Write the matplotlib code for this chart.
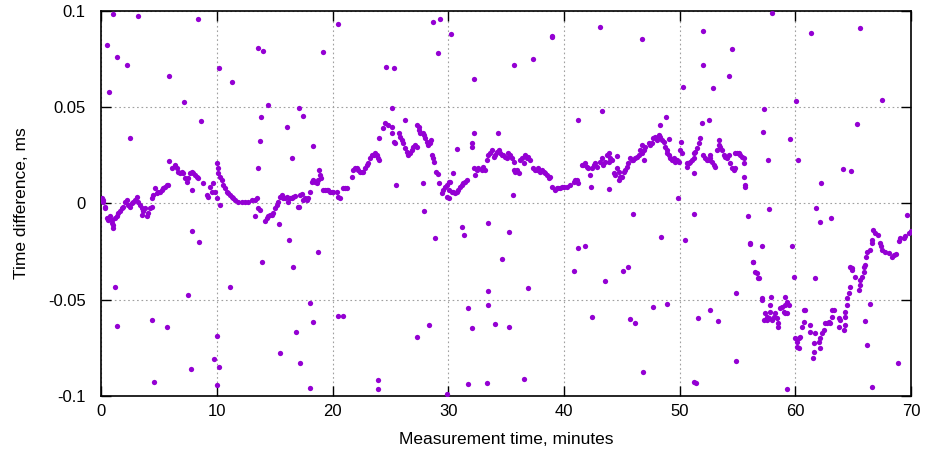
import matplotlib
matplotlib.use("Agg")
import matplotlib.pyplot as plt
from matplotlib.ticker import FuncFormatter

plt.rcParams['font.family'] = ['Liberation Sans', 'DejaVu Sans']

# main band (minutes, ms)
seg_00_10 = [
    (0.06, 0.0027), (0.14, 0.0018), (0.2, 0.0009), (0.35, -0.0017), (0.35, -0.0026),
    (0.49, -0.0077), (0.63, -0.0086), (0.78, -0.0068), (0.92, -0.0086), (0.92, -0.0103),
    (1.07, -0.0129), (1.07, -0.0112), (1.21, -0.0077), (1.35, -0.0068), (1.5, -0.0051),
    (1.64, -0.0042), (1.79, -0.0025), (1.93, -0.0017), (2.07, 0.0009), (2.22, 0.0018),
    (2.36, -0.0008), (2.5, -0.0017), (2.65, 0.0001), (2.79, 0.0009), (2.94, 0.0018),
    (3.08, 0.0035), (3.23, 0.0009), (3.37, -0.0008), (3.51, -0.0025), (3.51, -0.006),
    (3.66, -0.0042), (3.8, -0.0025), (3.95, -0.0068), (4.09, -0.0051), (4.23, -0.0025),
    (4.38, -0.0017), (4.38, 0.0027), (4.52, 0.0044), (4.67, 0.0079), (4.81, 0.0053),
    (4.95, 0.0061), (5.1, 0.0061), (5.24, 0.007), (5.38, 0.0079), (5.53, 0.0087),
    (5.68, 0.0096), (5.82, 0.0096), (5.88, 0.0222), (6.11, 0.0183), (6.4, 0.02),
    (6.54, 0.0183), (6.68, 0.0165), (6.83, 0.0157), (6.97, 0.0165), (7.11, 0.0157),
    (7.26, 0.0131), (7.41, 0.0113), (7.55, 0.0131), (7.69, 0.0157), (7.84, 0.0165),
    (7.98, 0.0157), (8.12, 0.0148), (8.27, 0.0139), (8.41, 0.0131), (7.84, 0.007),
    (8.84, 0.0105), (9.13, 0.0044), (9.27, 0.0035), (9.42, 0.0087), (9.56, 0.0061),
    (9.71, 0.0105), (9.85, 0.0061), (10.0, 0.0027),
]
seg_10_20 = [
    (10.0, 0.0209), (10.14, 0.0183), (10.14, 0.0157), (10.28, 0.0139), (10.43, 0.0122),
    (10.57, 0.0096), (10.72, 0.0079), (10.86, 0.0061), (11.0, 0.0053), (11.15, 0.0044),
    (11.29, 0.0035), (11.44, 0.0027), (11.58, 0.0018), (11.87, 0.0009), (12.16, 0.0009),
    (12.44, 0.0009), (12.73, 0.0009), (13.02, 0.0015), (13.31, 0.0018), (13.45, 0.0027),
    (10.28, -0.0008), (13.6, -0.0025), (13.74, -0.0034), (13.31, -0.0068), (14.17, -0.0094),
    (14.32, -0.0077), (14.46, -0.0068), (14.6, -0.006), (14.75, -0.006), (14.89, -0.0051),
    (15.04, -0.0025), (15.18, -0.0008), (15.32, 0.0009), (15.47, 0.0035), (15.61, 0.0044),
    (15.76, 0.0027), (15.9, 0.0027), (16.05, 0.0035), (16.19, 0.0009), (16.33, 0.0027),
    (16.48, 0.0027), (16.62, 0.0035), (16.77, 0.0039), (15.41, -0.0106), (17.05, -0.0017),
    (17.2, 0.0044), (17.34, 0.0049), (17.49, 0.0018), (17.63, 0.0027), (17.78, 0.0018),
    (17.92, 0.0027), (18.06, 0.0061), (18.21, 0.0113), (18.35, 0.0122), (18.49, 0.0113),
    (18.64, 0.0105), (18.78, 0.0122), (18.84, 0.0174), (18.93, 0.0148), (19.01, 0.0131),
    (19.21, 0.007), (19.36, 0.007), (19.5, 0.007), (19.65, 0.007), (19.79, 0.0061),
    (19.94, 0.0061),
]
seg_20_30 = [
    (20.08, 0.0061), (20.37, 0.0061), (20.51, 0.0035), (20.66, 0.0027), (20.94, 0.0079),
    (21.09, 0.0079), (21.23, 0.0079), (21.66, 0.0139), (21.8, 0.0174), (21.95, 0.0183),
    (22.1, 0.0183), (22.24, 0.0174), (22.38, 0.0165), (22.53, 0.0165), (22.67, 0.0165),
    (22.82, 0.0183), (22.96, 0.02), (23.1, 0.0209), (23.25, 0.0235), (23.4, 0.0252),
    (23.54, 0.0252), (23.68, 0.0261), (23.83, 0.0252), (23.97, 0.0235), (24.05, 0.0226),
    (24.05, 0.0342), (24.4, 0.039), (24.54, 0.0417), (24.83, 0.0408), (25.12, 0.0399),
    (25.12, 0.0365), (25.27, 0.0321), (25.41, 0.0313), (25.7, 0.0365), (25.84, 0.0347),
    (25.99, 0.033), (26.13, 0.0313), (26.27, 0.0287), (26.42, 0.0269), (26.56, 0.0252),
    (26.7, 0.0261), (26.85, 0.0278), (26.99, 0.0295), (27.14, 0.0304), (27.28, 0.0295),
    (26.27, 0.0434), (27.34, 0.0408), (27.51, 0.0399), (27.43, 0.0382), (27.57, 0.0365),
    (27.8, 0.0365), (27.91, 0.0356), (28.0, 0.0339), (28.15, 0.0321), (28.29, 0.0304),
    (28.43, 0.0313), (28.49, 0.033), (28.58, 0.0252), (28.72, 0.0235), (28.78, 0.0217),
    (28.95, 0.0165), (29.07, 0.0153), (29.24, 0.0105), (29.44, 0.0053), (29.58, 0.007),
    (29.73, 0.0087), (29.88, 0.0096), (29.88, 0.0035),
]
seg_30_40 = [
    (30.02, 0.007), (30.02, 0.0113), (30.1, 0.0027), (30.16, 0.0113), (30.31, 0.0061),
    (30.45, 0.0061), (30.59, 0.0053), (30.74, 0.0061), (30.88, 0.007), (31.03, 0.0087),
    (31.17, 0.0096), (31.31, 0.0105), (31.46, 0.0113), (31.6, 0.0122), (30.45, 0.0157),
    (32.18, 0.0183), (32.32, 0.0148), (32.47, 0.0174), (32.61, 0.0183), (32.9, 0.0174),
    (33.04, 0.0191), (33.19, 0.0174), (33.33, 0.0226), (33.47, 0.0252), (33.62, 0.0261),
    (33.76, 0.0278), (33.91, 0.0243), (34.05, 0.0252), (34.2, 0.0269), (34.34, 0.0278),
    (34.48, 0.0261), (34.63, 0.0252), (34.77, 0.0252), (34.92, 0.0243), (35.06, 0.0235),
    (35.2, 0.0261), (35.35, 0.0252), (35.49, 0.0235), (35.64, 0.0217), (35.64, 0.0174),
    (35.78, 0.0165), (35.93, 0.0174), (36.07, 0.0157), (36.21, 0.0226), (36.36, 0.0235),
    (36.5, 0.0209), (36.64, 0.0252), (36.79, 0.0235), (36.93, 0.0243), (37.08, 0.0226),
    (37.36, 0.0183), (37.51, 0.0174), (37.65, 0.0174), (37.79, 0.0183), (37.94, 0.0165),
    (38.09, 0.0174), (38.23, 0.0165), (38.37, 0.0157), (38.52, 0.0148), (38.66, 0.0131),
    (38.8, 0.0139), (38.95, 0.0087), (39.24, 0.007), (39.38, 0.0079), (39.52, 0.0079),
    (39.67, 0.0079), (39.81, 0.0087), (39.96, 0.0087),
]
seg_40_50 = [
    (40.25, 0.0087), (40.53, 0.0096), (40.82, 0.0113), (40.96, 0.0122), (41.11, 0.0122),
    (41.25, 0.0105), (41.54, 0.02), (41.68, 0.02), (41.83, 0.0209), (41.97, 0.0191),
    (42.11, 0.0183), (42.26, 0.0148), (42.4, 0.0183), (42.55, 0.02), (42.69, 0.0209),
    (42.84, 0.0191), (43.12, 0.0217), (43.27, 0.0235), (43.41, 0.02), (43.56, 0.0217),
    (43.7, 0.0252), (43.85, 0.0261), (43.99, 0.0235), (44.14, 0.0226), (43.85, 0.0217),
    (44.57, 0.0247), (44.28, 0.0157), (44.42, 0.0148), (44.57, 0.0183), (44.71, 0.0165),
    (44.79, 0.0122), (44.85, 0.0139), (45.0, 0.0139), (45.14, 0.0165), (45.29, 0.0174),
    (45.43, 0.0191), (45.57, 0.0209), (45.72, 0.0235), (45.86, 0.0226), (46.0, 0.0226),
    (46.15, 0.0235), (46.29, 0.0243), (46.44, 0.0252), (46.58, 0.0278), (46.73, 0.0261),
    (46.87, 0.0278), (47.01, 0.0295), (46.73, 0.0304), (46.87, 0.0226), (47.3, 0.0313),
    (47.45, 0.0304), (47.59, 0.0313), (47.73, 0.0339), (47.88, 0.0347), (48.02, 0.033),
    (48.17, 0.0356), (48.31, 0.0347), (48.46, 0.033), (48.6, 0.0321), (49.03, 0.0333),
    (48.74, 0.0295), (48.89, 0.0278), (48.89, 0.0261), (49.03, 0.0252), (49.17, 0.0235),
    (49.32, 0.0226), (49.46, 0.0235), (49.61, 0.0217), (49.75, 0.0226), (49.9, 0.0217),
]
seg_50_60 = [
    (50.04, 0.0278), (50.13, 0.0321), (50.18, 0.0261), (50.62, 0.0191), (50.62, 0.0209),
    (50.76, 0.0209), (50.9, 0.0217), (51.05, 0.0226), (51.19, 0.0235), (51.19, 0.0261),
    (51.34, 0.0269), (51.48, 0.0287), (51.62, 0.0313), (51.77, 0.0339), (52.05, 0.0252),
    (52.2, 0.0235), (52.34, 0.0226), (52.49, 0.0226), (52.63, 0.0235), (52.63, 0.0252),
    (52.78, 0.0217), (52.92, 0.02), (53.06, 0.0191), (53.21, 0.0278), (53.35, 0.033),
    (53.35, 0.0304), (53.5, 0.0295), (53.64, 0.0278), (53.78, 0.0252), (53.93, 0.0243),
    (54.08, 0.0235), (54.22, 0.0252), (54.36, 0.0209), (54.51, 0.0183), (54.65, 0.0174),
    (54.79, 0.0183), (54.79, 0.0261), (54.94, 0.0261), (55.08, 0.0261), (55.22, 0.0252),
    (55.37, 0.0243), (55.51, 0.0235), (55.51, 0.0209), (55.57, 0.0136), (55.6, 0.0096),
    (55.6, 0.0084), (56.09, -0.0207), (56.1, -0.021), (56.3, -0.0302), (56.36, -0.0305),
    (56.52, -0.0354), (56.67, -0.0363), (56.72, -0.0389), (56.81, -0.0389), (57.1, -0.0493),
    (57.12, -0.0502), (57.24, -0.0605), (57.38, -0.057), (57.53, -0.0588), (57.53, -0.0605),
    (57.67, -0.0597), (57.82, -0.0562), (57.82, -0.0527), (57.87, -0.0484), (57.96, -0.0605),
    (58.1, -0.0588), (58.25, -0.057), (58.4, -0.0597), (58.53, -0.0622), (58.53, -0.064),
    (58.68, -0.0545), (58.83, -0.0536), (58.97, -0.0562), (59.11, -0.0527), (59.11, -0.057),
    (59.26, -0.051), (59.26, -0.057), (59.4, -0.0527), (59.11, -0.0484), (59.98, -0.07),
]
seg_60_70 = [
    (60.12, -0.0718), (60.26, -0.0752), (60.26, -0.07), (60.4, -0.0692), (60.56, -0.064),
    (60.7, -0.0614), (60.7, -0.0553), (60.84, -0.0553), (60.12, -0.0744), (61.27, -0.0631),
    (61.27, -0.0666), (61.56, -0.0726), (61.56, -0.077), (61.5, -0.0804), (61.7, -0.0674),
    (62.0, -0.0718), (62.14, -0.07), (62.14, -0.0752), (62.3, -0.0674), (62.43, -0.0657),
    (62.57, -0.0622), (62.7, -0.0622), (62.86, -0.0614), (63.0, -0.0622), (63.15, -0.0588),
    (63.15, -0.0553), (63.29, -0.0553), (63.72, -0.0597), (63.87, -0.0605), (63.72, -0.064),
    (64.15, -0.0657), (64.3, -0.0631), (64.3, -0.0588), (64.3, -0.0562), (64.44, -0.0527),
    (64.44, -0.0493), (64.58, -0.0467), (64.67, -0.0432), (64.73, -0.0328), (64.88, -0.0337),
    (64.88, -0.0345), (65.16, -0.038), (65.45, -0.045), (65.6, -0.0423), (65.6, -0.0397),
    (65.74, -0.038), (65.88, -0.0354), (65.88, -0.0328), (66.03, -0.032), (66.1, -0.0276),
    (66.2, -0.025), (66.46, -0.0242), (66.6, -0.019), (66.6, -0.0207), (66.69, -0.0138),
    (66.9, -0.0155), (67.1, -0.0164), (67.3, -0.0207), (67.35, -0.0224), (67.47, -0.0242),
    (67.76, -0.025), (68.04, -0.0259), (68.33, -0.0276), (68.47, -0.0267), (68.7, -0.0262),
    (68.9, -0.0198), (69.05, -0.018), (69.34, -0.018), (69.48, -0.0172), (69.77, -0.0155),
    (69.97, -0.0146),
]
# scattered outliers
outliers = [
    (1.07, 0.0984), (3.17, 0.0974), (8.41, 0.0958), (0.49, 0.0823), (1.35, 0.0763),
    (2.28, 0.072), (0.72, 0.0581), (5.88, 0.0662), (7.2, 0.0526), (10.2, 0.0706),
    (11.3, 0.0633), (13.54, 0.0806), (14.03, 0.0794), (14.46, 0.0512), (13.83, 0.0451),
    (17.1, 0.0494), (17.49, 0.0455), (16.05, 0.0396), (8.64, 0.0429), (2.5, 0.0339),
    (13.74, 0.0325), (16.5, 0.0238), (13.6, 0.0186), (18.3, 0.030), (17.1, -0.0017),
    (7.9, -0.0143), (8.47, -0.0203), (16.25, -0.019), (13.94, -0.0306), (16.6, -0.0328),
    (1.21, -0.0435), (11.15, -0.0437), (7.55, -0.0475), (1.35, -0.0636), (4.38, -0.0605),
    (5.68, -0.064), (10.0, -0.0688), (9.77, -0.081), (10.2, -0.0848), (7.75, -0.0861),
    (4.6, -0.0929), (10.0, -0.0946), (16.85, -0.0666), (15.47, -0.0778), (17.2, -0.0827),
    (20.5, 0.0932), (19.2, 0.0789), (28.66, 0.094), (29.3, 0.0958), (30.2, 0.088),
    (29.15, 0.0783), (24.6, 0.0711), (25.27, 0.0702), (32.2, 0.0645), (25.1, 0.0494),
    (25.47, 0.0096), (27.8, 0.0105), (27.86, -0.0042), (28.87, -0.0181), (31.17, -0.0124),
    (31.37, -0.0164), (33.47, -0.01), (34.63, -0.029), (18.78, -0.0254), (18.06, -0.0515),
    (18.35, -0.0617), (18.06, -0.0957), (20.45, -0.0584), (20.94, -0.0584), (23.97, -0.0917),
    (23.97, -0.0965), (27.28, -0.0692), (28.35, -0.0631), (29.87, -0.099), (31.7, -0.0541),
    (32.03, -0.0648), (31.7, -0.0939), (33.33, -0.0931), (33.47, -0.0453), (33.47, -0.0527),
    (34.05, -0.0626), (30.74, 0.0282), (32.03, 0.0313), (32.09, 0.0292), (32.26, 0.0365),
    (38.95, 0.0863), (38.98, 0.0872), (35.7, 0.072), (37.36, 0.075), (43.13, 0.0918),
    (46.73, 0.0853), (50.3, 0.0607), (41.25, 0.0434), (43.3, 0.048), (34.28, 0.0365),
    (35.55, 0.0044), (42.35, 0.0087), (43.85, 0.0075), (49.84, 0.003), (51.2, 0.0157),
    (45.95, -0.0056), (51.25, -0.0056), (48.4, -0.0175), (50.47, -0.019), (35.26, -0.015),
    (41.25, -0.0233), (41.83, -0.0219), (40.9, -0.0349), (45.08, -0.0349), (45.57, -0.0332),
    (43.56, -0.0403), (36.93, -0.044), (35.29, -0.0643), (42.4, -0.0591), (45.66, -0.0602),
    (46.15, -0.0619), (47.65, -0.0539), (48.89, -0.0524), (51.57, -0.0593), (36.56, -0.0913),
    (46.81, -0.0877), (51.25, -0.0926), (51.4, -0.0934), (48.31, 0.0408), (48.83, 0.0451),
    (51.91, 0.0417), (52.49, 0.0434), (52.05, 0.0896), (54.5, 0.080), (52.05, 0.072),
    (54.27, 0.0664), (52.83, 0.060), (58.0, 0.0988), (61.36, 0.0884), (65.6, 0.0913),
    (67.47, 0.0538), (60.04, 0.0532), (57.24, 0.049), (65.3, 0.0415), (57.15, 0.0373),
    (59.54, 0.0333), (57.61, 0.0226), (60.2, 0.0226), (64.1, 0.0178), (64.8, 0.017),
    (62.2, 0.0108), (61.77, -0.0022), (62.14, -0.0098), (63.1, -0.0077), (69.6, -0.006),
    (57.67, -0.0029), (55.88, -0.0068), (57.1, -0.0221), (59.69, -0.0219), (59.9, -0.0385),
    (61.65, -0.0389), (54.85, -0.0467), (52.63, -0.0553), (53.3, -0.061), (54.85, -0.0818),
    (59.26, -0.0964), (66.6, -0.0955), (68.85, -0.0827), (66.2, -0.0735), (65.97, -0.061),
    (66.46, -0.0524),
]

x_ticks = [0, 10, 20, 30, 40, 50, 60, 70]
y_ticks = [-0.1, -0.05, 0, 0.05, 0.1]

points = seg_00_10 + seg_10_20 + seg_20_30 + seg_30_40 + seg_40_50 + seg_50_60 + seg_60_70 + outliers
t = [p[0] for p in points]
d = [p[1] for p in points]

fig = plt.figure(figsize=(9.27, 4.55), dpi=100)
ax = fig.add_axes([0.109, 0.130, 0.874, 0.846])

ax.plot(t, d, 'o', color='#9400D3', markersize=3.8, markeredgewidth=0, zorder=3)

ax.set_xlim(0, 70)
ax.set_ylim(-0.1, 0.1)
ax.set_xticks(x_ticks)
ax.set_yticks(y_ticks)
ax.yaxis.set_major_formatter(FuncFormatter(lambda v, p: '%g' % round(v, 3)))
ax.grid(True, color='#a0a0a0', linestyle=(0, (1.5, 2.5)), linewidth=0.8)
ax.tick_params(direction='in', top=True, right=True, length=7, width=1,
               labelsize=12, pad=6)
ax.tick_params(axis='y', pad=11)
for s in ax.spines.values():
    s.set_linewidth(1.2)

ax.set_xlabel('Measurement time, minutes', fontsize=12.5, labelpad=9)
ax.set_ylabel('Time difference, ms', fontsize=12.5, labelpad=14)

fig.savefig('out.png', dpi=100)
